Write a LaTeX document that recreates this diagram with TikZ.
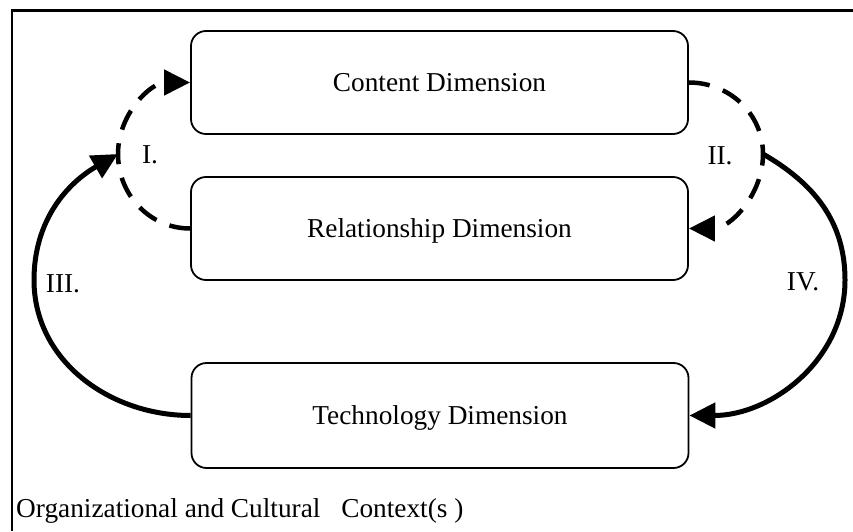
\documentclass[tikz,border=0pt]{standalone}
\usepackage{fontspec}
\setmainfont{Liberation Serif}
\usetikzlibrary{arrows.meta}
\newcommand{\diagfont}{\fontsize{27.3}{32}\selectfont}

\begin{document}
\begin{tikzpicture}[x=1pt, y=1pt,
  dimbox/.style={draw, line width=1.8pt, rounded corners=15pt, minimum width=497pt, minimum height=103pt, font=\diagfont, text height=18pt, text depth=0pt},
  arclabel/.style={font=\diagfont, inner sep=0pt},
  flowtip/.style={-{Triangle[length=26pt, width=25pt]}},
  softlink/.style={flowtip, line width=4.5pt, dash pattern=on 21pt off 14pt},
  hardlink/.style={flowtip, line width=5pt}]
  \useasboundingbox (0,0) rectangle (853,531);

  % frame of the context
  \draw[line width=3pt] (12,520) -- (853,520);
  \draw[line width=1.5pt] (12,521.5) -- (12,0);

  % the three dimensions
  \node[dimbox] (content) at (439.5,448.5) {Content Dimension};
  \node[dimbox] (relation) at (439.5,302.5) {Relationship Dimension};
  \node[dimbox, minimum height=105pt] (techno) at (440,115.5) {Technology Dimension};

  \coordinate (iL) at (118,377);
  \coordinate (iiR) at (763,377);
  \coordinate (iiiL) at (34,251);
  \coordinate (ivR) at (845,251);

  % dashed loops
  \draw[softlink] (relation.west) to[out=180,in=-90] (iL) to[out=90,in=180] (content.west);
  \draw[softlink] (content.east) to[out=0,in=90] (iiR) to[out=-90,in=0] (relation.east);
  % solid loops
  \draw[hardlink] (techno.west) to[out=180,in=-90] (iiiL) to[out=90,in=-150] (iL);
  \draw[hardlink] (iiR) to[out=-30,in=90] (ivR) to[out=-90,in=0] (techno.east);

  % loop labels
  \node[arclabel] (labI) at (150,376) {I.};
  \node[arclabel] (labII) at (720,375) {II.};
  \node[arclabel] (labIII) at (63,247) {III.};
  \node[arclabel] (labIV) at (803,249) {IV.};

  \node[font=\diagfont, anchor=base west, inner sep=0pt] (context) at (16,14) {Organizational and Cultural\hspace{14pt} Context(s )};
\end{tikzpicture}
\end{document}
